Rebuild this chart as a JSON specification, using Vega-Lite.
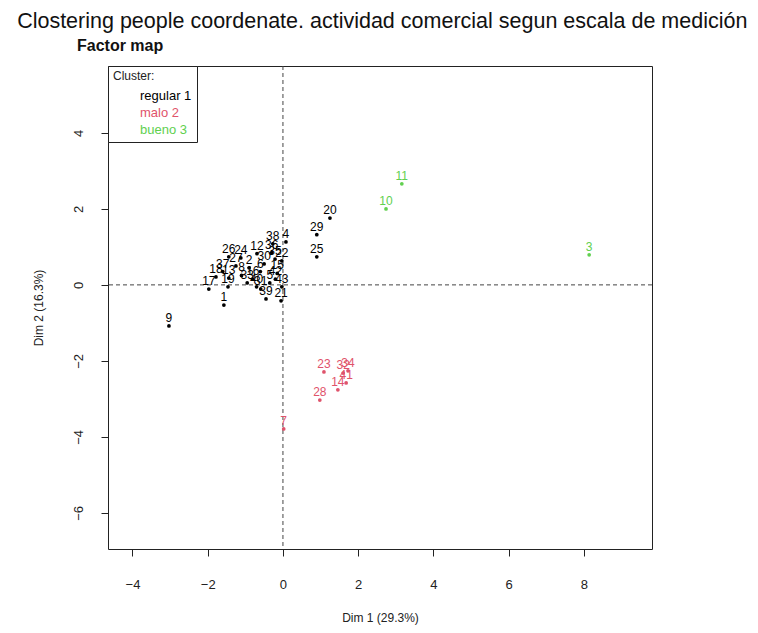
{
  "$schema": "https://vega.github.io/schema/vega-lite/v6.json",
  "background": "white",
  "padding": {"left": 17, "top": 10, "right": 5, "bottom": 5},
  "config": {
    "font": "Liberation Sans",
    "view": {"stroke": "#222", "strokeWidth": 1},
    "axis": {
      "grid": false,
      "domain": false,
      "ticks": true,
      "tickColor": "#222",
      "tickSize": 7,
      "labelFontSize": 13,
      "labelColor": "#222",
      "titleFontSize": 12,
      "titleFontWeight": "normal",
      "titleColor": "#222"
    }
  },
  "title": {
    "text": "Clostering people coordenate. actividad comercial segun escala de medición",
    "fontSize": 21.5,
    "fontWeight": "normal",
    "color": "#111",
    "anchor": "middle",
    "dx": 40,
    "offset": 5
  },
  "vconcat": [
    {
      "title": {
        "text": "Factor map",
        "fontSize": 16,
        "fontWeight": "bold",
        "color": "#111",
        "anchor": "start",
        "dx": 45,
        "offset": 12
      },
      "width": 544,
      "height": 483,
      "layer": [
        {
          "data": {"values": [{"v": 0}]},
          "mark": {"type": "rule", "color": "#444", "strokeDash": [4, 3], "strokeWidth": 1},
          "encoding": {
            "x": {"field": "v", "type": "quantitative", "scale": {"domain": [-4.65, 9.81], "nice": false, "zero": false}}
          }
        },
        {
          "data": {"values": [{"v": 0}]},
          "mark": {"type": "rule", "color": "#444", "strokeDash": [4, 3], "strokeWidth": 1},
          "encoding": {
            "y": {"field": "v", "type": "quantitative", "scale": {"domain": [-6.95, 5.76], "nice": false, "zero": false}}
          }
        },
        {
          "data": {"name": "individuos"},
          "mark": {"type": "point", "filled": true, "size": 14, "opacity": 1},
          "encoding": {
            "x": {
              "field": "dim1", "type": "quantitative",
              "scale": {"domain": [-4.65, 9.81], "nice": false, "zero": false},
              "axis": {"values": [-4, -2, 0, 2, 4, 6, 8], "title": "Dim 1 (29.3%)", "labelPadding": 22, "titlePadding": 21}
            },
            "y": {
              "field": "dim2", "type": "quantitative",
              "scale": {"domain": [-6.95, 5.76], "nice": false, "zero": false},
              "axis": {"values": [-6, -4, -2, 0, 2, 4], "title": "Dim 2 (16.3%)", "labelAngle": -90, "labelPadding": 16, "titlePadding": 27}
            },
            "color": {
              "field": "cluster", "type": "nominal",
              "scale": {"domain": ["regular 1", "malo   2", "bueno  3"], "range": ["#000000", "#DF536B", "#61D04F"]},
              "legend": {
                "title": "Cluster:",
                "orient": "top-left",
                "offset": 0,
                "titleFontSize": 12,
                "titleFontWeight": "normal",
                "titleColor": "#222",
                "titlePadding": 6,
                "labelFontSize": 13,
                "labelOffset": 14,
                "symbolSize": 100,
                "symbolOpacity": 0,
                "symbolStrokeWidth": 0,
                "rowPadding": 3,
                "padding": 5,
                "strokeColor": "#222",
                "fillColor": "white",
                "cornerRadius": 0,
                "encode": {"labels": {"update": {"fill": {"scale": "color", "field": "value"}}}}
              }
            }
          }
        },
        {
          "data": {"name": "individuos"},
          "mark": {"type": "text", "fontSize": 12, "dy": -8},
          "encoding": {
            "x": {"field": "dim1", "type": "quantitative"},
            "y": {"field": "dim2", "type": "quantitative"},
            "text": {"field": "id"},
            "color": {"field": "cluster", "type": "nominal", "legend": null}
          }
        }
      ]
    }
  ],
  "datasets": {
    "individuos": [
      {"id": "1", "dim1": -1.57, "dim2": -0.53, "cluster": "regular 1"},
      {"id": "2", "dim1": -0.9, "dim2": 0.45, "cluster": "regular 1"},
      {"id": "4", "dim1": 0.08, "dim2": 1.13, "cluster": "regular 1"},
      {"id": "5", "dim1": -0.35, "dim2": 0.05, "cluster": "regular 1"},
      {"id": "6", "dim1": -0.6, "dim2": 0.35, "cluster": "regular 1"},
      {"id": "8", "dim1": -1.1, "dim2": 0.25, "cluster": "regular 1"},
      {"id": "9", "dim1": -3.03, "dim2": -1.08, "cluster": "regular 1"},
      {"id": "12", "dim1": -0.69, "dim2": 0.82, "cluster": "regular 1"},
      {"id": "13", "dim1": -1.44, "dim2": 0.18, "cluster": "regular 1"},
      {"id": "15", "dim1": -0.15, "dim2": 0.3, "cluster": "regular 1"},
      {"id": "16", "dim1": -0.8, "dim2": 0.15, "cluster": "regular 1"},
      {"id": "17", "dim1": -1.97, "dim2": -0.11, "cluster": "regular 1"},
      {"id": "18", "dim1": -1.78, "dim2": 0.21, "cluster": "regular 1"},
      {"id": "19", "dim1": -1.46, "dim2": -0.05, "cluster": "regular 1"},
      {"id": "20", "dim1": 1.25, "dim2": 1.76, "cluster": "regular 1"},
      {"id": "21", "dim1": -0.05, "dim2": -0.42, "cluster": "regular 1"},
      {"id": "22", "dim1": -0.03, "dim2": 0.63, "cluster": "regular 1"},
      {"id": "24", "dim1": -1.12, "dim2": 0.71, "cluster": "regular 1"},
      {"id": "25", "dim1": 0.9, "dim2": 0.74, "cluster": "regular 1"},
      {"id": "26", "dim1": -1.44, "dim2": 0.74, "cluster": "regular 1"},
      {"id": "27", "dim1": -1.25, "dim2": 0.5, "cluster": "regular 1"},
      {"id": "29", "dim1": 0.9, "dim2": 1.32, "cluster": "regular 1"},
      {"id": "30", "dim1": -0.5, "dim2": 0.55, "cluster": "regular 1"},
      {"id": "31", "dim1": -0.59, "dim2": -0.11, "cluster": "regular 1"},
      {"id": "33", "dim1": -0.95, "dim2": 0.05, "cluster": "regular 1"},
      {"id": "35", "dim1": -0.21, "dim2": 0.68, "cluster": "regular 1"},
      {"id": "36", "dim1": -0.3, "dim2": 0.85, "cluster": "regular 1"},
      {"id": "37", "dim1": -1.6, "dim2": 0.35, "cluster": "regular 1"},
      {"id": "38", "dim1": -0.27, "dim2": 1.08, "cluster": "regular 1"},
      {"id": "39", "dim1": -0.45, "dim2": -0.37, "cluster": "regular 1"},
      {"id": "40", "dim1": -0.7, "dim2": -0.05, "cluster": "regular 1"},
      {"id": "42", "dim1": -0.2, "dim2": 0.15, "cluster": "regular 1"},
      {"id": "43", "dim1": -0.03, "dim2": -0.05, "cluster": "regular 1"},
      {"id": "7", "dim1": 0.02, "dim2": -3.79, "cluster": "malo   2"},
      {"id": "14", "dim1": 1.46, "dim2": -2.76, "cluster": "malo   2"},
      {"id": "23", "dim1": 1.09, "dim2": -2.29, "cluster": "malo   2"},
      {"id": "28", "dim1": 0.98, "dim2": -3.03, "cluster": "malo   2"},
      {"id": "32", "dim1": 1.6, "dim2": -2.32, "cluster": "malo   2"},
      {"id": "34", "dim1": 1.73, "dim2": -2.26, "cluster": "malo   2"},
      {"id": "41", "dim1": 1.68, "dim2": -2.58, "cluster": "malo   2"},
      {"id": "3", "dim1": 8.14, "dim2": 0.79, "cluster": "bueno  3"},
      {"id": "10", "dim1": 2.74, "dim2": 2.0, "cluster": "bueno  3"},
      {"id": "11", "dim1": 3.16, "dim2": 2.66, "cluster": "bueno  3"}
    ]
  }
}
